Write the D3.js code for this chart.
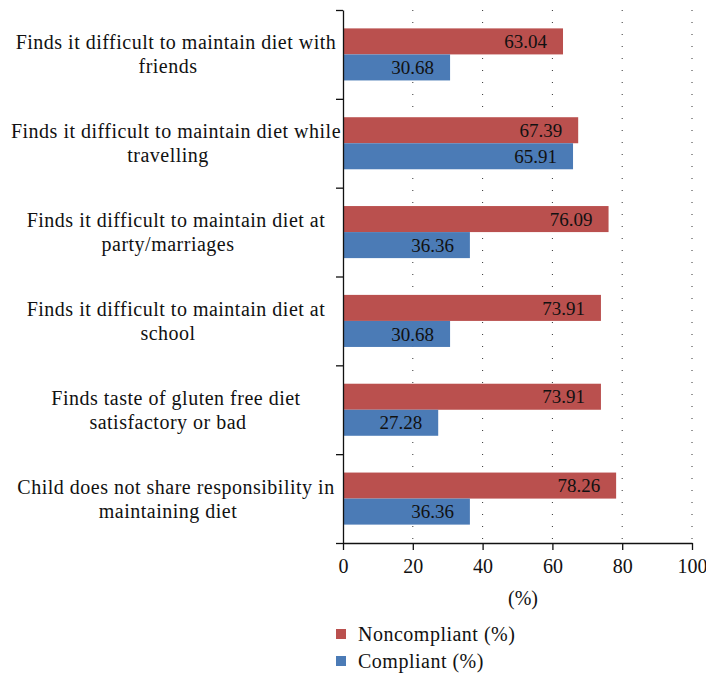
<!DOCTYPE html>
<html>
<head>
<meta charset="utf-8">
<script src="https://cdn.jsdelivr.net/npm/d3@7"></script>
<style>
  body { margin: 0; background: #fff; }
  svg text { font-family: 'Liberation Serif', 'DejaVu Serif', serif; fill: #111; }
</style>
</head>
<body>
<div id="chart"></div>
<script>
const categories = [
    ['Finds it difficult to maintain diet with', 'friends'],
    ['Finds it difficult to maintain diet while', 'travelling'],
    ['Finds it difficult to maintain diet at', 'party/marriages'],
    ['Finds it difficult to maintain diet at', 'school'],
    ['Finds taste of gluten free diet', 'satisfactory or bad'],
    ['Child does not share responsibility in', 'maintaining diet'],
];
const seriesNames = ['Noncompliant (%)', 'Compliant (%)'];
const noncompliant = [63.04, 67.39, 76.09, 73.91, 73.91, 78.26];
const compliant = [30.68, 65.91, 36.36, 30.68, 27.28, 36.36];
const xTicks = [0, 20, 40, 60, 80, 100];
const xTitle = '(%)';

const colors = ['#BA504E', '#4B7BB6'];
const width = 706;
const height = 673;
const plotLeft = 343;
const plotRight = 692;
const plotTop = 10;
const plotBottom = 543;
const fontSize = 19;
const labelSize = 20;
const labelSpacing = '0.5px';

const svg = d3.select('#chart')
.append('svg')
.attr('width', width)
.attr('height', height);

const idx = categories.map((_, i) => i);

const x = d3.scaleLinear()
.domain([0, 100])
.range([plotLeft, plotRight]);

const y = d3.scaleBand()
.domain(idx)
.range([plotTop, plotBottom])
.paddingInner(0.414)
.paddingOuter(0.207);

const yInner = d3.scaleBand()
.domain([0, 1])
.range([0, y.bandwidth()]);

const yEdge = d3.scaleLinear()
.domain([0, categories.length])
.range([plotTop, plotBottom]);

// dotted gridlines
svg.append('g')
.selectAll('line')
.data(xTicks.slice(1))
.enter()
.append('line')
.attr('x1', d => x(d))
.attr('x2', d => x(d))
.attr('y1', plotTop)
.attr('y2', plotBottom)
.attr('stroke', '#333')
.attr('stroke-width', 1)
.attr('stroke-dasharray', '1,11');

// bars
const series = [noncompliant, compliant];
series.forEach((values, s) => {
    const g = svg.append('g');
    g.selectAll('rect')
    .data(values)
    .enter()
    .append('rect')
    .attr('x', x(0))
    .attr('y', (d, i) => y(i) + yInner(s))
    .attr('width', d => x(d) - x(0))
    .attr('height', yInner.bandwidth())
    .attr('fill', colors[s]);

    g.selectAll('text')
    .data(values)
    .enter()
    .append('text')
    .attr('x', d => x(d) - 16)
    .attr('y', (d, i) => y(i) + yInner(s) + yInner.bandwidth() / 2)
    .attr('dy', '0.35em')
    .attr('text-anchor', 'end')
    .style('font-size', `${fontSize}px`)
    .text(d => d.toFixed(2));
});

// y axis with ticks at category boundaries
svg.append('g')
.attr('transform', `translate(${plotLeft}, 0)`)
.call(d3.axisLeft(yEdge).tickValues(d3.range(categories.length + 1)).tickFormat('').tickSize(7).tickSizeOuter(0))
.call(g => g.selectAll('path, line').attr('stroke', '#111').attr('stroke-width', 1.3));

// category labels
const labels = svg.append('g');
categories.forEach((lines, i) => {
    const cy = y(i) + y.bandwidth() / 2;
    labels.append('text')
    .attr('text-anchor', 'middle')
    .style('font-size', `${labelSize}px`)
    .style('letter-spacing', labelSpacing)
    .selectAll('tspan')
    .data(lines)
    .enter()
    .append('tspan')
    .attr('x', (d, j) => (j === 0 ? 176 : 168))
    .attr('y', (d, j) => cy + (j - 0.5) * 24)
    .attr('dy', '0.35em')
    .text(d => d);
});

// x axis
svg.append('g')
.attr('transform', `translate(0, ${plotBottom})`)
.call(d3.axisBottom(x).tickValues(xTicks).tickSize(7).tickSizeOuter(0).tickPadding(9))
.call(g => g.selectAll('path, line').attr('stroke', '#111').attr('stroke-width', 1.3))
.call(g => g.selectAll('text').style('font-size', `${labelSize}px`).attr('fill', '#111').style('font-family', "'Liberation Serif', serif"));

svg.append('text')
.attr('x', 523)
.attr('y', 598)
.attr('dy', '0.35em')
.attr('text-anchor', 'middle')
.style('font-size', `${labelSize}px`)
.text(xTitle);

// legend
const legend = svg.append('g');
seriesNames.forEach((name, s) => {
    const ly = 634 + s * 27;
    legend.append('rect')
    .attr('x', 336)
    .attr('y', ly - 5)
    .attr('width', 10)
    .attr('height', 10)
    .attr('fill', colors[s]);
    legend.append('text')
    .attr('x', 358)
    .attr('y', ly)
    .attr('dy', '0.35em')
    .style('font-size', `${labelSize}px`)
    .style('letter-spacing', labelSpacing)
    .text(name);
});
</script>
</body>
</html>
